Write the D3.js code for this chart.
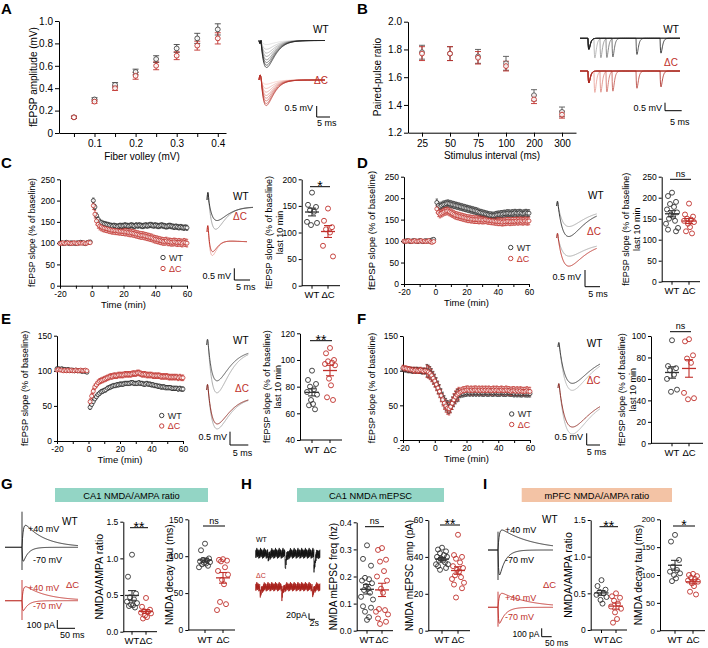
<!DOCTYPE html>
<html><head><meta charset="utf-8">
<script src="https://cdnjs.cloudflare.com/ajax/libs/d3/7.8.5/d3.min.js"></script>
<style>html,body{margin:0;padding:0;background:#fff}</style>
</head><body>
<svg id="fig" width="708" height="648" xmlns="http://www.w3.org/2000/svg"></svg>
<script>
// ================= DATA =================
// Panel A: input-output
const fiberVolley = [0.05,0.1,0.15,0.2,0.25,0.3,0.35,0.4];
const fvTickLabels = [0.1,0.2,0.3,0.4];
const ampTicks = [0,0.2,0.4,0.6,0.8,1.0];
const ampWT    = [0.14,0.30,0.43,0.545,0.66,0.755,0.845,0.925];
const ampWTsem = [0.01,0.015,0.02,0.025,0.03,0.035,0.045,0.05];
const ampDC    = [0.14,0.28,0.40,0.51,0.60,0.69,0.78,0.845];
const ampDCsem = [0.01,0.015,0.02,0.03,0.035,0.035,0.04,0.05];
// Panel B: paired-pulse ratio
const intervals = ["25","50","75","100","200","300"];
const pprTicks = [1.2,1.4,1.6,1.8,2.0];
const pprWT    = [1.78,1.77,1.75,1.70,1.47,1.35];
const pprWTsem = [0.05,0.05,0.05,0.05,0.04,0.035];
const pprDC    = [1.77,1.77,1.74,1.68,1.44,1.33];
const pprDCsem = [0.05,0.05,0.045,0.035,0.03,0.025];
// Time courses: one value per minute, t = -20 .. 60
const minutes = d3.range(-20,61);
const C_WT = [100,101,99,100,102,100,99,101,100,100,99,101,100,102,101,100,99,101,102,103,null,
200,185,165,156,150,148,146,145,144,143,142,141,140,141,140,139,140,141,140,141,
142,141,140,141,142,141,140,142,141,142,141,140,141,142,141,142,143,142,141,142,
141,140,141,142,141,140,139,140,141,140,139,138,139,138,137,138,137,136,137,136];
const C_DC = [99,100,101,99,100,101,100,99,100,101,100,99,101,100,100,101,99,100,102,101,null,
188,168,152,144,140,138,136,135,134,133,132,131,130,130,129,129,128,128,127,127,
126,126,125,124,124,123,122,121,120,119,118,118,117,116,115,114,113,112,110,109,
108,107,106,105,104,104,105,103,103,102,102,103,102,101,102,101,100,102,101,100];
const C_semWT = [2,6], C_semDC = [2,9];
const D_WT = [99,100,101,100,99,100,101,100,100,99,101,100,99,100,101,100,100,101,103,104,null,
190,183,181,183,185,186,187,188,187,186,185,184,183,182,181,180,179,178,177,176,
175,174,173,172,171,170,169,167,166,165,164,163,162,161,160,160,159,160,161,162,
162,163,163,164,164,165,165,164,165,165,166,165,165,166,165,164,165,166,165,165];
const D_DC = [100,99,100,101,100,99,100,101,99,100,100,101,99,100,99,100,101,98,97,99,null,
175,166,163,165,167,169,170,170,168,166,164,162,160,159,158,157,156,155,154,153,
152,152,151,151,150,150,150,149,150,149,149,150,149,148,148,147,147,146,146,145,
145,145,144,145,145,146,146,145,146,146,146,147,146,147,147,146,147,147,146,147];
const D_semWT = [3,8], D_semDC = [3,9];
const E_WT = [103,103,102,103,102,102,101,102,101,101,101,100,101,100,100,100,99,100,99,98,null,
48,52,56,60,63,66,68,70,71,72,73,75,76,77,78,79,79,80,80,81,
81,81,82,82,82,82,83,83,82,82,82,83,82,82,81,81,82,81,81,80,
80,79,79,78,78,77,77,77,76,76,76,76,75,75,75,75,74,75,74,74];
const E_DC = [101,102,101,101,100,101,100,101,100,101,100,100,101,100,100,101,100,100,101,100,null,
56,64,71,77,80,83,85,86,87,88,89,90,91,92,92,93,93,93,94,94,
94,94,95,95,95,95,95,96,96,96,97,97,96,95,95,95,94,94,94,94,
93,93,93,93,93,92,92,92,92,92,91,91,91,91,91,91,90,91,90,90];
const E_semWT = [2,3], E_semDC = [2,4];
const F_WT = [103,102,102,101,101,101,100,101,100,101,100,100,99,100,99,100,99,97,94,90,86,
81,76,71,65,60,55,51,48,47,49,53,57,61,64,65,66,67,67,68,68,
69,68,69,68,69,68,69,68,69,68,68,69,68,68,69,68,68,69,68,68,
68,69,68,68,68,69,68,68,68,67,68,67,68,67,67,68,67,67,67,67];
const F_DC = [104,103,103,102,102,101,101,100,101,100,100,101,100,99,100,99,98,96,93,89,85,
80,75,70,64,58,53,49,46,45,48,53,58,62,65,67,69,70,71,71,72,
72,71,72,71,72,72,71,72,71,72,71,72,71,72,71,71,72,71,72,71,
71,72,71,71,72,71,71,70,71,71,70,71,70,71,70,70,70,71,70,70];
const F_semWT = [4,9,5], F_semDC = [4,9,6];
// Scatter (last 10 min, per slice / cell)
const C_scWT = [175,152,148,142,139,120,118,114];
const C_scDC = [145,122,110,106,100,75,55];
const D_scWT = [212,204,190,185,178,172,165,160,155,150,145,138,128,124,120];
const D_scDC = [186,160,155,150,148,145,142,138,130,120,115];
const E_scWT = [92,85,82,80,78,76,74,70,67,66,63];
const E_scDC = [109,105,100,99,98,97,96,86,81,72,70];
const F_scWT = [96,72,70,68,64,60,50,48];
const F_scDC = [97,95,82,79,75,47,42,41];
const G_ratioWT = [1.05,0.75,0.52,0.47,0.44,0.41,0.39,0.37,0.36,0.35,0.33];
const G_ratioDC = [0.46,0.34,0.30,0.28,0.27,0.26,0.25,0.22,0.20,0.18];
const G_tauWT = [117,108,97,95,94,93,92,91,90,89,87,85];
const G_tauDC = [96,95,94,93,85,80,75,68,62,38,35,27];
const H_freqWT = [0.315,0.265,0.24,0.195,0.19,0.185,0.175,0.165,0.155,0.15,0.14,0.125,0.115,0.09,0.085,0.07,0.05,0.04];
const H_freqDC = [0.305,0.298,0.262,0.255,0.22,0.2,0.185,0.155,0.14,0.08,0.076,0.07,0.06,0.045,0.033,0.025];
const H_ampWT = [45,44,43,42,41,40,40,39,38,38,37,36,36,35,34,33];
const H_ampDC = [52,41,40,39,37,35,34,33,32,30,29,28,26,25,23,18];
const I_ratioWT = [0.68,0.60,0.55,0.52,0.50,0.48,0.45,0.41,0.36];
const I_ratioDC = [0.50,0.46,0.44,0.40,0.36,0.32,0.29,0.24,0.15,0.10];
const I_tauWT = [172,160,127,115,109,106,103,100,94,89];
const I_tauDC = [102,100,98,95,93,90,88,85,80,70,65];

// ================= HELPERS =================
const svg = d3.select("#fig");
const FONT = '"Liberation Sans", Arial, Helvetica, sans-serif';
const RED = "#c0302b", WTC = "#2a2a2a";
const JIT = [0,-4,4,-2,2,-5,5,-1,1,-3,3,-6,6,-4,4,-2,2,0];
const DELTA = "\u0394C";

function txt(x,y,s,o={}){
  const t = svg.append("text").attr("x",x).attr("y",y).text(s)
    .attr("font-family",FONT).attr("font-size",o.fs||10).attr("fill",o.fill||"#000")
    .attr("text-anchor",o.anchor||"start");
  if(o.bold) t.attr("font-weight","bold");
  if(o.rot) t.attr("transform",`rotate(-90,${x},${y})`);
  if(o.dy) t.attr("dy",o.dy);
  return t;
}
function rotLabel(x,y,s,fs){ return txt(x,y,s,{fs:fs,anchor:"middle",rot:true,dy:"0.35em"}); }
function sty(g,fs){
  g.attr("font-family",FONT).attr("font-size",fs);
  g.select(".domain").attr("stroke","#000").attr("stroke-width",1);
  g.selectAll(".tick line").attr("stroke","#000");
  g.selectAll(".tick text").attr("fill","#000");
}
function axL(scale,x,ticks,fmt,fs,ts){
  const g = svg.append("g").attr("transform",`translate(${x},0)`)
    .call(d3.axisLeft(scale).tickValues(ticks).tickFormat(fmt).tickSize(ts||3).tickPadding(2).tickSizeOuter(0));
  sty(g,fs); return g;
}
function axB(scale,y,ticks,fmt,fs,ts,pad){
  const a = d3.axisBottom(scale).tickSize(ts||3).tickPadding(pad||2).tickSizeOuter(0);
  if(ticks) a.tickValues(ticks);
  if(fmt) a.tickFormat(fmt);
  const g = svg.append("g").attr("transform",`translate(0,${y})`).call(a);
  sty(g,fs); return g;
}
function errPts(xs,ys,sems,xS,yS,col,o){
  const g = svg.append("g");
  xs.forEach((xv,i)=>{
    const v = ys[i]; if(v==null) return;
    const s = typeof sems==="function" ? sems(xv) : sems[i];
    const px = xS(xv), cw = o.cap;
    g.append("line").attr("x1",px).attr("x2",px).attr("y1",yS(v-s)).attr("y2",yS(v+s)).attr("stroke",col).attr("stroke-width",o.sw||0.9);
    [v-s,v+s].forEach(e=>g.append("line").attr("x1",px-cw).attr("x2",px+cw).attr("y1",yS(e)).attr("y2",yS(e)).attr("stroke",col).attr("stroke-width",o.sw||0.9));
  });
  return g;
}
function circPts(xs,ys,xS,yS,col,r,sw){
  const g = svg.append("g");
  xs.forEach((xv,i)=>{ const v=ys[i]; if(v==null) return;
    g.append("circle").attr("cx",xS(xv)).attr("cy",yS(v)).attr("r",r).attr("fill","#fff").attr("fill-opacity",0.85)
      .attr("stroke",col).attr("stroke-width",sw||0.9); });
}
const lineGen = d3.line();
function path(pts,col,sw){
  svg.append("path").attr("d",lineGen(pts)).attr("fill","none").attr("stroke",col)
    .attr("stroke-width",sw||0.9).attr("stroke-linejoin","round");
}
function alphaF(u,tp){ return u<=0?0:(u/tp)*Math.exp(1-u/tp); }
function fepsp(o){
  const pts = d3.range(0,201).map(i=>{ const t=i/200;
    let yv = o.yS + (o.yE-o.yS)*(1-Math.exp(-t/0.3)) + o.depth*alphaF(t-o.t0,o.tp);
    if(t<o.t0) yv -= o.art*Math.sin(Math.PI*t/o.t0);
    return [o.x0+t*(o.x1-o.x0), yv]; });
  path(pts,o.col,o.sw||0.9);
}
function epsc(o){
  let norm=0; for(let u=0;u<300;u+=0.1) norm=Math.max(norm,Math.exp(-u/o.td)-Math.exp(-u/o.tr));
  const pts = d3.range(o.x0,o.x1+0.01,0.5).map(x=>{ const u=x-o.xs;
    const v = u>0 ? (Math.exp(-u/o.td)-Math.exp(-u/o.tr))/norm : 0;
    return [x, o.base - o.amp*v]; });
  path(pts,o.col,o.sw||0.9);
}
const NZ = [0.9,-0.6,1,-0.85,0.4,-1,0.7,-0.3,0.8,-0.7,0.2,-0.95,0.6,-0.5,0.95,-0.2,0.5];
function noisy(x0,x1,yc,h,ev,dep,col){
  const pts=[]; let i=0;
  for(let x=x0;x<=x1;x+=0.22,i++){
    let v = yc + h*NZ[i%NZ.length]*(0.55+0.45*Math.abs(NZ[(i*5+3)%NZ.length]));
    ev.forEach((e,k)=>{ const u=x-e; if(u>=0) v += dep[k]*Math.exp(-u/1.2); });
    pts.push([x,v]);
  }
  path(pts,col,0.7);
}
function hline(x1,x2,y,col,sw){ svg.append("line").attr("x1",x1).attr("x2",x2).attr("y1",y).attr("y2",y).attr("stroke",col||"#000").attr("stroke-width",sw||1); }
function vline(x,y1,y2,col,sw){ svg.append("line").attr("x1",x).attr("x2",x).attr("y1",y1).attr("y2",y2).attr("stroke",col||"#000").attr("stroke-width",sw||1); }
function scaleBar(vx,vy1,vy2,hx2,vLab,vlx,vly,hLab,hlx,hly,fs){
  vline(vx,vy1,vy2); hline(vx,hx2,vy2);
  txt(vlx,vly,vLab,{fs:fs||9,anchor:"end"});
  txt(hlx,hly,hLab,{fs:fs||9});
}
function letter(x,y,s){ txt(x,y,s,{fs:15,bold:true}); }

function timeCourse(o){
  const x = d3.scaleLinear().domain([-20,60]).range(o.xr);
  const y = d3.scaleLinear().domain([0,o.ymax]).range(o.yr);
  axL(y,o.xr[0],o.yticks,d=>d,8.5);
  axB(x,o.yr[0],d3.range(-20,61,10),d=>d%20===0?d:"",8.5);
  const semFn = arr => t => arr.length===3 ? (t<-5?arr[0]:(t<=15?arr[1]:arr[2])) : (t<0?arr[0]:arr[1]);
  errPts(minutes,o.wt,semFn(o.semWT),x,y,WTC,{cap:1.2,sw:0.7});
  errPts(minutes,o.dc,semFn(o.semDC),x,y,RED,{cap:1.2,sw:0.7});
  circPts(minutes,o.wt,x,y,WTC,2,0.8);
  circPts(minutes,o.dc,x,y,RED,2,0.8);
  rotLabel(o.ylx,(o.yr[0]+o.yr[1])/2,"fEPSP slope (% of baseline)",o.lfs);
  txt((o.xr[0]+o.xr[1])/2,o.yr[0]+22,"Time (min)",{fs:9.5,anchor:"middle"});
  // legend
  [["WT",WTC,o.lg[1]],[DELTA,RED,o.lg[2]]].forEach(([s,c,yy])=>{
    svg.append("circle").attr("cx",o.lg[0]).attr("cy",yy).attr("r",2.2).attr("fill","none").attr("stroke",c).attr("stroke-width",0.9);
    txt(o.lg[0]+6,yy+3.3,s,{fs:9,fill:c});
  });
}

function dotPlot(o){
  const y = d3.scaleLinear().domain(o.dom).range([o.yb,o.yt]);
  axL(y,o.ax,o.ticks,o.fmt||(d=>d),o.fs||9);
  hline(o.ax,o.xe,o.yb);
  [[o.xw,"WT"],[o.xd,DELTA]].forEach(([xx,s])=>{
    vline(xx,o.yb,o.yb+3);
    txt(xx,o.yb+12.5,s,{anchor:"middle",fs:9.5});
  });
  [[o.wt,o.xw,"#333"],[o.dc,o.xd,RED]].forEach(([vals,xc,col])=>{
    vals.forEach((v,i)=>{
      svg.append("circle").attr("cx",xc+JIT[i%JIT.length]*(o.sp||1)).attr("cy",y(v)).attr("r",2.5)
        .attr("fill","none").attr("stroke",col).attr("stroke-width",0.9);
    });
    const m = d3.mean(vals), se = d3.deviation(vals)/Math.sqrt(vals.length);
    hline(xc-7,xc+7,y(m),col,1.3);
    vline(xc,y(m-se),y(m+se),col,1.1);
    hline(xc-4,xc+4,y(m-se),col,1.1);
    hline(xc-4,xc+4,y(m+se),col,1.1);
  });
  hline(o.xw-2,o.xd+2,o.sy);
  if(o.sig==="ns") txt((o.xw+o.xd)/2,o.sy-2.5,"ns",{fs:9,anchor:"middle"});
  else txt((o.xw+o.xd)/2,o.sy+4,o.sig,{fs:14,anchor:"middle"});
  o.lab.forEach((s,i)=>rotLabel(o.lx[i],(o.yb+o.yt)/2,s,o.lfs||9));
}

// ================= PANEL A =================
letter(1,14,"A");
{
  const x = d3.scaleLinear().domain([0.0136,0.42]).range([59,226]);
  const y = d3.scaleLinear().domain([0,1]).range([133,21]);
  axL(y,59,ampTicks,d=>d===0?"0":d3.format(".1f")(d),10,4);
  axB(x,133,fiberVolley,d=>fvTickLabels.includes(d)?d3.format(".1f")(d):"",10,4,3);
  txt(142,160,"Fiber volley (mV)",{fs:10,anchor:"middle"});
  rotLabel(33,77,"fEPSP amplitude (mV)",10);
  errPts(fiberVolley,ampWT,ampWTsem,x,y,"#444",{cap:3});
  errPts(fiberVolley,ampDC,ampDCsem,x,y,RED,{cap:3});
  circPts(fiberVolley,ampWT,x,y,"#444",2.4,0.9);
  circPts(fiberVolley,ampDC,x,y,RED,2.4,0.9);
  // example traces (one per stimulus strength)
  const gW = d3.interpolateRgb("#d4d4d4","#111"), gR = d3.interpolateRgb("#f3bdb5","#b3251d");
  fiberVolley.forEach((fv,i)=>{
    fepsp({x0:259,x1:325,yS:40.5,yE:40.5,depth:ampWT[i]/ampWT[7]*27,t0:0.03,tp:0.085,art:-3,col:gW(i/7),sw:0.7});
  });
  fiberVolley.forEach((fv,i)=>{
    fepsp({x0:259,x1:325,yS:80,yE:80,depth:ampDC[i]/ampWT[7]*28,t0:0.035,tp:0.075,art:5,col:gR(i/7),sw:0.7});
  });
  txt(313,33,"WT",{fs:10});
  txt(314,84,DELTA,{fs:10,fill:RED});
  scaleBar(316.7,106,117,330,"0.5 mV",313,111,"5 ms",317,126,9);
}

// ================= PANEL B =================
letter(357,14,"B");
{
  const x = d3.scalePoint().domain(intervals).range([408,576]).padding(0.5);
  const y = d3.scaleLinear().domain([1.2,2.0]).range([132.7,21.7]);
  axL(y,408,pprTicks,d3.format(".1f"),10,4);
  axB(x,132.7,null,null,10,4,3);
  txt(492,158.5,"Stimulus interval (ms)",{fs:10,anchor:"middle"});
  rotLabel(377,77,"Paired-pulse ratio",10);
  errPts(intervals,pprWT,pprWTsem,x,y,"#555",{cap:3});
  errPts(intervals,pprDC,pprDCsem,x,y,RED,{cap:3});
  circPts(intervals,pprWT,x,y,"#555",2.4,0.9);
  circPts(intervals,pprDC,x,y,RED,2.4,0.9);
  const tB = d3.scaleLinear().domain([-33,383]).range([580,680]);
  const gW = d3.interpolateRgb("#aaaaaa","#111"), gR = d3.interpolateRgb("#e79a92","#a61e16");
  intervals.forEach((iv,i)=>{
    const ms=+iv;
    path(d3.range(-33,384,1).map(t=>[tB(t),38.3+11*alphaF(t,4)+11*pprWT[i]*alphaF(t-ms,4)]),gW(i/5),0.8);
  });
  intervals.forEach((iv,i)=>{
    const ms=+iv;
    path(d3.range(-33,384,1).map(t=>[tB(t),71+12*alphaF(t,4)+12*pprDC[i]*alphaF(t-ms,4)]),gR(i/5),0.8);
  });
  txt(671,33,"WT",{fs:10,anchor:"middle"});
  txt(671,66,DELTA,{fs:10,fill:RED,anchor:"middle"});
  scaleBar(665,102.7,110.7,681.7,"0.5 mV",662,111,"5 ms",670,125,9);
}

// ================= PANEL C =================
letter(1,168,"C");
timeCourse({xr:[60,187],yr:[285.7,179.3],ymax:250,yticks:[0,50,100,150,200,250],wt:C_WT,dc:C_DC,
  semWT:C_semWT,semDC:C_semDC,ylx:32,lfs:8.7,lg:[163,257.5,268.5]});
fepsp({x0:207,x1:253,yS:200,yE:207,depth:26,t0:0.04,tp:0.14,art:8,col:"#9a9a9a"});
fepsp({x0:207,x1:253,yS:200,yE:207,depth:17,t0:0.04,tp:0.16,art:8,col:"#222"});
fepsp({x0:207,x1:247,yS:232,yE:242,depth:20,t0:0.04,tp:0.085,art:7,col:"#eaa39b"});
fepsp({x0:207,x1:247,yS:232,yE:242,depth:16,t0:0.04,tp:0.09,art:7,col:"#b8281f"});
txt(233,200,"WT",{fs:10});
txt(233,220,DELTA,{fs:10,fill:RED});
scaleBar(234.3,268.3,280,250,"0.5 mV",231,279,"5 ms",236,290,9);
dotPlot({ax:301.7,yb:285.7,yt:179.3,dom:[0,200],ticks:[0,50,100,150,200],fs:8.5,wt:C_scWT,dc:C_scDC,
  xw:312,xd:328,xe:340,sig:"*",sy:186.7,lab:["fEPSP slope (% of baseline)","last 10 min"],lx:[269,280]});

// ================= PANEL D =================
letter(357,168,"D");
timeCourse({xr:[404,529],yr:[284,176.7],ymax:250,yticks:[0,50,100,150,200,250],wt:D_WT,dc:D_DC,
  semWT:D_semWT,semDC:D_semDC,ylx:372,lfs:9.5,lg:[510.7,247.5,258.5]});
fepsp({x0:556.7,x1:596.7,yS:206,yE:210,depth:18,t0:0.04,tp:0.25,art:5,col:"#a0a0a0"});
fepsp({x0:556.7,x1:596.7,yS:206,yE:210,depth:28,t0:0.04,tp:0.25,art:5,col:"#222"});
fepsp({x0:556.7,x1:596.7,yS:238,yE:243,depth:15,t0:0.04,tp:0.25,art:5,col:"#a0a0a0"});
fepsp({x0:556.7,x1:596.7,yS:238,yE:243,depth:25,t0:0.04,tp:0.25,art:5,col:"#b8281f"});
txt(588,199,"WT",{fs:10});
txt(587,235,DELTA,{fs:10,fill:RED});
scaleBar(585,270,286.7,600,"0.5 mV",581,280,"5 ms",588.3,297,9);
dotPlot({ax:661.7,yb:281.7,yt:176.7,dom:[0,250],ticks:[0,50,100,150,200,250],fs:8.5,wt:D_scWT,dc:D_scDC,
  xw:672,xd:689,xe:700,sig:"ns",sy:179.3,lab:["fEPSP slope (% of baseline)","last 10 min"],lx:[625.5,636.5]});

// ================= PANEL E =================
letter(1,324,"E");
timeCourse({xr:[57,183],yr:[441,335.7],ymax:150,yticks:[0,50,100,150],wt:E_WT,dc:E_DC,
  semWT:E_semWT,semDC:E_semDC,ylx:25,lfs:9.2,lg:[161.7,415.5,426]});
fepsp({x0:206.7,x1:248.3,yS:345,yE:350,depth:45,t0:0.04,tp:0.2,art:6,col:"#a0a0a0"});
fepsp({x0:206.7,x1:248.3,yS:345,yE:350,depth:33,t0:0.04,tp:0.2,art:6,col:"#444"});
fepsp({x0:206.7,x1:248.3,yS:390,yE:397,depth:35,t0:0.04,tp:0.2,art:6,col:"#a0a0a0"});
fepsp({x0:206.7,x1:248.3,yS:390,yE:397,depth:30,t0:0.04,tp:0.2,art:6,col:"#8a1e16"});
txt(233,344,"WT",{fs:10});
txt(235,392,DELTA,{fs:10,fill:RED});
scaleBar(230,431.7,445,248.3,"0.5 mV",227,440,"5 ms",232.7,456,9);
dotPlot({ax:300,yb:440,yt:333.3,dom:[40,120],ticks:[40,60,80,100,120],fs:8.5,wt:E_scWT,dc:E_scDC,
  xw:312,xd:330,xe:342,sig:"**",sy:340.7,lab:["fEPSP slope (% of baseline)","last 10 min"],lx:[267,278]});

// ================= PANEL F =================
letter(357,324,"F");
timeCourse({xr:[403,530],yr:[440,336],ymax:150,yticks:[0,50,100,150],wt:F_WT,dc:F_DC,
  semWT:F_semWT,semDC:F_semDC,ylx:372,lfs:8.8,lg:[511.7,414,424.5]});
fepsp({x0:558,x1:600,yS:347,yE:355,depth:38,t0:0.04,tp:0.28,art:5,col:"#b0b0b0"});
fepsp({x0:558,x1:600,yS:347,yE:355,depth:31,t0:0.04,tp:0.28,art:5,col:"#333"});
fepsp({x0:558,x1:600,yS:388,yE:397,depth:40,t0:0.04,tp:0.28,art:5,col:"#b0b0b0"});
fepsp({x0:558,x1:600,yS:388,yE:397,depth:33,t0:0.04,tp:0.28,art:5,col:"#8a1e16"});
txt(586.7,347,"WT",{fs:10});
txt(586.7,384,DELTA,{fs:10,fill:RED});
scaleBar(586.7,433.3,445,600,"0.5 mV",583,440,"5 ms",586.7,455,9);
dotPlot({ax:651,yb:443.3,yt:336,dom:[0,100],ticks:[0,20,40,60,80,100],fs:8.5,wt:F_scWT,dc:F_scDC,
  xw:672,xd:689,xe:703,sig:"ns",sy:331.7,lab:["fEPSP slope (% of baseline)","last 10 min"],lx:[622,633]});

// ================= PANEL G =================
letter(1,489,"G");
function banner(x0,x1,s,col){
  svg.append("rect").attr("x",x0).attr("y",488).attr("width",x1-x0).attr("height",14).attr("fill",col);
  txt((x0+x1)/2,498.5,s,{fs:9.3,anchor:"middle"});
}
banner(55,208,"CA1 NMDA/AMPA ratio","#93d5c5");
epsc({x0:5,x1:78,xs:22,base:547.3,amp:22,tr:1.2,td:20,col:"#222"});
epsc({x0:5,x1:78,xs:22,base:547.3,amp:-14,tr:0.5,td:5,col:"#222"});
vline(22,511.7,570,"#222",0.9);
epsc({x0:5,x1:78,xs:22,base:600.7,amp:14,tr:1.2,td:22,col:RED});
epsc({x0:5,x1:78,xs:22,base:600.7,amp:-10,tr:0.5,td:5,col:RED});
vline(22,580,620,RED,0.9);
txt(28,531.5,"+40 mV",{fs:9});
txt(33,563,"-70 mV",{fs:9});
txt(62,525,"WT",{fs:10});
txt(28,591,"+40 mV",{fs:9,fill:RED});
txt(33,609,"-70 mV",{fs:9,fill:RED});
txt(66,588,DELTA,{fs:9.5,fill:RED});
scaleBar(57.3,620,628.3,75,"100 pA",55,628,"50 ms",60,638,9);
dotPlot({ax:123.3,yb:631.7,yt:521.7,dom:[0,1.5],ticks:[0,0.5,1,1.5],fmt:d3.format(".1f"),fs:8.5,wt:G_ratioWT,dc:G_ratioDC,
  xw:132,xd:146,xe:157,sig:"**",sy:527.7,lab:["NMDA/AMPA ratio"],lx:[99],lfs:10.5});
dotPlot({ax:188.3,yb:630,yt:519.3,dom:[0,150],ticks:[0,50,100,150],fs:8.5,wt:G_tauWT,dc:G_tauDC,
  xw:205,xd:223,xe:235,sig:"ns",sy:526,lab:["NMDA decay tau (ms)"],lx:[169],lfs:10.3});

// ================= PANEL H =================
letter(241,489,"H");
banner(297,444,"CA1 NMDA mEPSC","#93d5c5");
noisy(255.7,320,553.3,5.5,[268,285,314],[6,18,18],"#111");
noisy(255.7,320,586.7,4.8,[260,281.7,312.3],[12,12,12],"#a8201a");
txt(256,542,"WT",{fs:7});
txt(256,578,DELTA,{fs:7,fill:RED});
scaleBar(309,613.3,619.3,315,"20pA",307,618,"2s",309.5,626,9);
dotPlot({ax:356.7,yb:630.7,yt:522.3,dom:[0,0.4],ticks:[0,0.1,0.2,0.3,0.4],fmt:d3.format(".1f"),fs:8.5,wt:H_freqWT,dc:H_freqDC,
  xw:367,xd:382,xe:393,sig:"ns",sy:526.7,lab:["NMDA mEPSC freq (hz)"],lx:[333],lfs:10});
dotPlot({ax:428.3,yb:630.7,yt:520,dom:[0,60],ticks:[0,20,40,60],fs:8.5,wt:H_ampWT,dc:H_ampDC,
  xw:442,xd:458,xe:470,sig:"**",sy:525,lab:["NMDA mEPSC amp (pA)"],lx:[410],lfs:10});

// ================= PANEL I =================
letter(483,489,"I");
banner(521.7,672,"mPFC NMDA/AMPA ratio","#f3c3a5");
epsc({x0:488,x1:553,xs:498,base:550,amp:20,tr:1.2,td:32,col:"#222"});
epsc({x0:488,x1:553,xs:498,base:550,amp:-25,tr:0.6,td:6,col:"#222"});
vline(498,531.7,580,"#222",0.9);
epsc({x0:488,x1:553,xs:498,base:607.3,amp:14,tr:1.2,td:28,col:RED});
epsc({x0:488,x1:553,xs:498,base:607.3,amp:-16,tr:0.6,td:6,col:RED});
vline(498,591.7,626.7,RED,0.9);
txt(505,533,"+40 mV",{fs:9});
txt(505,563,"-70 mV",{fs:9});
txt(542,523,"WT",{fs:10});
txt(505,601,"+40 mV",{fs:9,fill:RED});
txt(505,620,"-70 mV",{fs:9,fill:RED});
txt(543,588,DELTA,{fs:9.5,fill:RED});
scaleBar(541.7,628.3,636.7,551.7,"100 pA",539.5,637,"50 ms",545,646,8.5);
dotPlot({ax:590.7,yb:630,yt:520,dom:[0,1.5],ticks:[0,0.5,1,1.5],fmt:d=>d===0?"0":d3.format(".1f")(d),fs:8.5,wt:I_ratioWT,dc:I_ratioDC,
  xw:601.5,xd:616,xe:627,sig:"**",sy:526.7,lab:["NMDA/AMPA ratio"],lx:[568],lfs:10.5});
dotPlot({ax:660,yb:630.7,yt:519.3,dom:[0,200],ticks:[0,50,100,150,200],fs:8,wt:I_tauWT,dc:I_tauDC,
  xw:675,xd:693,xe:705,sig:"*",sy:526,lab:["NMDA decay tau (ms)"],lx:[638.5],lfs:10.3});
</script>
</body></html>
